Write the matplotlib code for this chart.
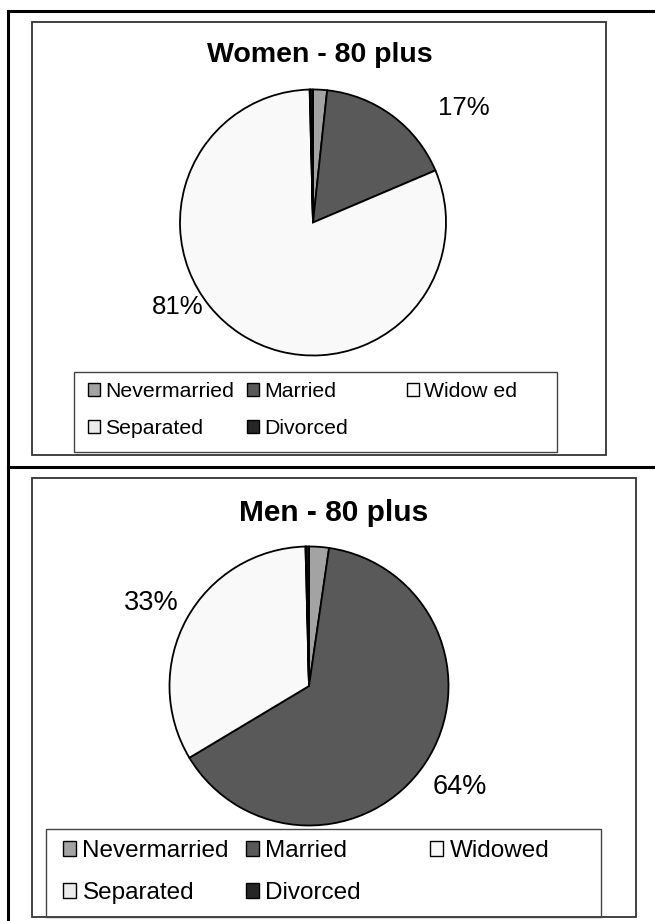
import matplotlib.pyplot as plt
from matplotlib.patches import Rectangle
from matplotlib.lines import Line2D

W, H = 655, 921

# data
women_names = ['Nevermarried', 'Married', 'Widow ed', 'Separated', 'Divorced']
men_names = ['Nevermarried', 'Married', 'Widowed', 'Separated', 'Divorced']
women = [1.7, 16.9, 81.0, 0.1, 0.3]
men = [2.3, 64.1, 33.2, 0.1, 0.3]
colors = ['#a3a3a3', '#595959', '#f9f9f9', '#ebebeb', '#262626']

plt.rcParams['font.family'] = ['Liberation Sans', 'DejaVu Sans']

fig = plt.figure(figsize=(W / 100, H / 100), dpi=100)


def fx(x):
    return x / W


def fy(y):
    return 1 - y / H


def frame(x0, y0, x1, y1, color='#333333', lw=1.3):
    fig.add_artist(Rectangle((fx(x0), fy(y1)), fx(x1) - fx(x0), fy(y0) - fy(y1),
                             transform=fig.transFigure, fill=False,
                             edgecolor=color, linewidth=lw))


def line(xs, ys, lw=2.2):
    fig.add_artist(Line2D([fx(x) for x in xs], [fy(y) for y in ys],
                          transform=fig.transFigure, color='black', lw=lw))


# outer table lines
line([7.5, 7.5], [11, 921])
line([7.5, 655], [11, 11])
line([7.5, 655], [467, 467])


def chart(values, names, title, c):
    frame(*c['frame'])
    fig.text(fx(c['title'][0]), fy(c['title'][1]), title, ha='center', va='center',
             fontsize=c['title_size'], fontweight='bold')
    cx, cy, r = c['pie']
    ax = fig.add_axes([fx(cx - r), fy(cy + r), 2 * r / W, 2 * r / H])
    wedges, _ = ax.pie(values, colors=colors, startangle=90, counterclock=False,
                       wedgeprops=dict(edgecolor='black', linewidth=1.3))
    ax.set_xlim(-1, 1)
    ax.set_ylim(-1, 1)
    ax.axis('off')
    big = [v for v in values if v >= 5]
    for v, (lx, ly) in zip(big, c['label_pos']):
        ax.text(lx, ly, f'{v:.0f}%', ha='center', va='center',
                fontsize=c['label_size'])
    frame(*c['legend_box'], color='#444444', lw=1.0)
    for cols, x in zip([[0, 3], [1, 4], [2]], c['legend_x']):
        leg = fig.legend([wedges[i] for i in cols], [names[i] for i in cols],
                         loc='upper left', bbox_to_anchor=(fx(x), fy(c['legend_top'])),
                         bbox_transform=fig.transFigure, frameon=False,
                         borderpad=0, borderaxespad=0, handlelength=0.55,
                         handleheight=0.55, handletextpad=0.25,
                         labelspacing=c['spacing'], fontsize=c['legend_size'])
        for h in leg.legend_handles:
            h.set_linewidth(1.0)


chart(women, women_names, 'Women - 80 plus', dict(
    frame=(32, 22, 606, 455), title=(320, 55), title_size=20.5,
    pie=(313, 222.5, 133), label_pos=[(1.135, 0.861), (-1.015, -0.635)],
    label_size=18.5, legend_box=(74, 372, 557, 452), legend_x=[88, 247, 407],
    legend_top=382, legend_size=15.3, spacing=0.86))

chart(men, men_names, 'Men - 80 plus', dict(
    frame=(32, 478, 636, 917), title=(334, 513), title_size=21.5,
    pie=(309, 686, 139.5), label_pos=[(1.079, -0.727), (-1.129, 0.597)],
    label_size=19.5, legend_box=(46, 829, 601, 917), legend_x=[63, 246, 430],
    legend_top=840, legend_size=17.5, spacing=0.83))

fig.savefig('out.png', dpi=100)
